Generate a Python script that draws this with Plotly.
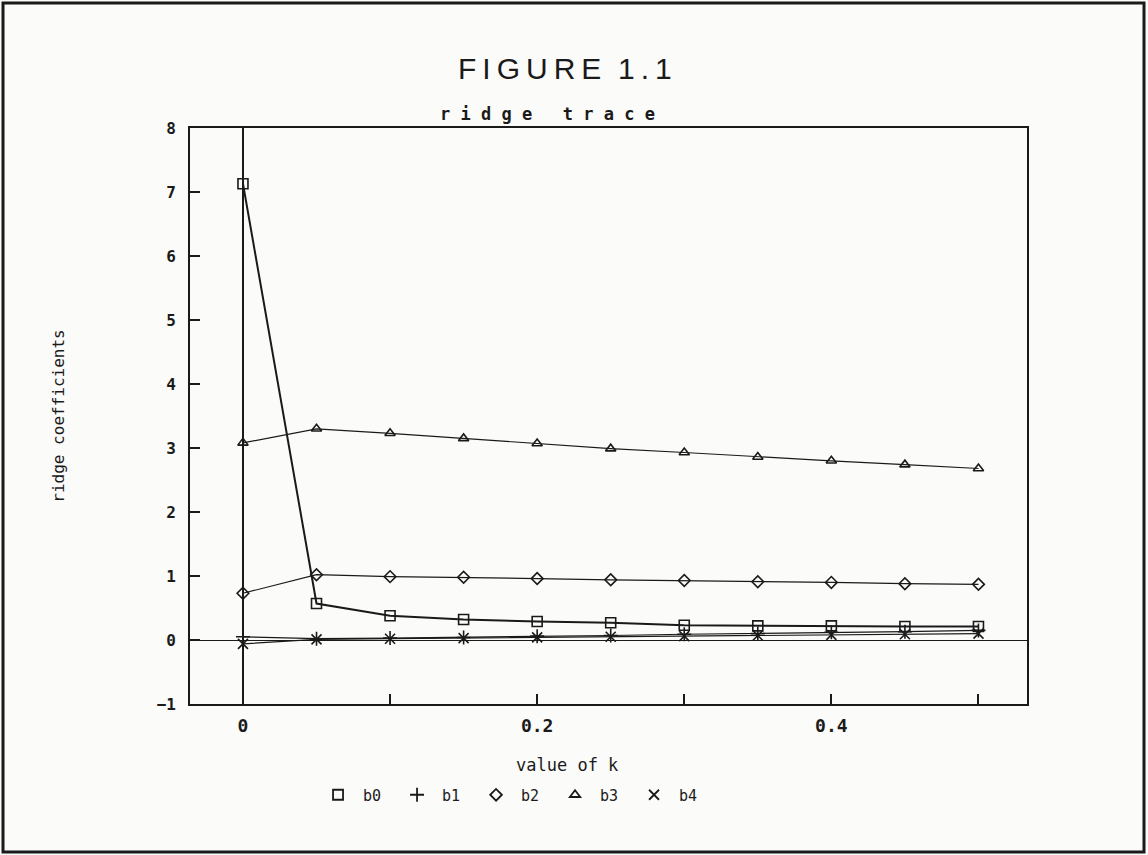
import plotly.graph_objects as go

k_values = [0.0, 0.05, 0.10, 0.15, 0.20, 0.25, 0.30, 0.35, 0.40, 0.45, 0.50]
b0 = [7.13, 0.57, 0.38, 0.32, 0.29, 0.27, 0.23, 0.22, 0.22, 0.21, 0.21]
b1 = [0.05, 0.02, 0.03, 0.04, 0.06, 0.07, 0.09, 0.10, 0.12, 0.13, 0.15]
b2 = [0.73, 1.02, 0.99, 0.98, 0.96, 0.94, 0.93, 0.91, 0.90, 0.88, 0.87]
b3 = [3.08, 3.30, 3.23, 3.15, 3.07, 2.99, 2.93, 2.86, 2.80, 2.74, 2.68]
b4 = [-0.06, 0.01, 0.02, 0.03, 0.04, 0.05, 0.06, 0.07, 0.08, 0.09, 0.10]

series_names = ["b0", "b1", "b2", "b3", "b4"]
series_values = [b0, b1, b2, b3, b4]
symbols = ["square-open", "cross-thin-open", "diamond-open", "triangle-up-open", "x-thin-open"]
marker_sizes = [10, 10, 9, 9, 10]
line_widths = [2.0, 1.2, 1.2, 1.2, 1.2]

INK = "#1a1a1a"
MONO = "DejaVu Sans Mono"

fig = go.Figure()
for name, vals, sym, ms, lw in zip(series_names, series_values, symbols, marker_sizes, line_widths):
    fig.add_trace(go.Scatter(
        x=k_values, y=vals, mode="lines+markers", name=name, showlegend=False,
        line=dict(color=INK, width=lw),
        marker=dict(symbol=sym, size=ms, color=INK, line=dict(color=INK, width=1.6)),
    ))
    fig.add_trace(go.Scatter(
        x=[None], y=[None], mode="markers", name=name, showlegend=True,
        marker=dict(symbol=sym, size=ms, color=INK, line=dict(color=INK, width=1.8)),
    ))

fig.update_layout(
    width=1148, height=855,
    margin=dict(l=190, r=121, t=128, b=151),
    paper_bgcolor="#fbfbfa", plot_bgcolor="#fbfbfa",
    font=dict(family=MONO, color=INK, size=14),
    legend=dict(orientation="h", x=0.147, xanchor="left", y=-0.158, yanchor="middle",
                entrywidth=24, entrywidthmode="pixels", itemwidth=40,
                font=dict(family=MONO, size=15, color=INK), bgcolor="rgba(0,0,0,0)"),
    xaxis=dict(range=[-0.036, 0.533], dtick=0.2, tick0=0,
               ticks="inside", ticklen=10, tickwidth=1.5, tickcolor=INK, ticklabelstandoff=5,
               minor=dict(dtick=0.1, ticks="inside", ticklen=10, tickwidth=1.5, tickcolor=INK),
               showgrid=False, zeroline=True, zerolinecolor=INK, zerolinewidth=2.4,
               showline=True, linecolor=INK, linewidth=1.6, mirror=True,
               tickfont=dict(family=MONO, size=18, weight="bold")),
    yaxis=dict(range=[-1, 8], dtick=1, tick0=0,
               ticks="inside", ticklen=10, tickwidth=1.5, tickcolor=INK, ticklabelstandoff=9,
               showgrid=False, zeroline=True, zerolinecolor=INK, zerolinewidth=1.2,
               showline=True, linecolor=INK, linewidth=1.6, mirror=True,
               title=dict(text="ridge coefficients", standoff=88, font=dict(family=MONO, size=16)),
               tickfont=dict(family=MONO, size=16, weight="bold")),
    annotations=[
        dict(text="F\u2009I\u2009G\u2009U\u2009R\u2009E  1\u2009.\u20091", x=0.448, y=1.104,
             xref="paper", yref="paper", xanchor="center", yanchor="middle",
             showarrow=False, font=dict(family="Liberation Sans", size=30, color=INK)),
        dict(text="r i d g e   t r a c e", x=0.427, y=1.024, xref="paper", yref="paper",
             xanchor="center", yanchor="middle",
             showarrow=False, font=dict(family=MONO, size=17, color=INK, weight="bold")),
        dict(text="value of k", x=0.451, y=-0.106, xref="paper", yref="paper",
             xanchor="center", yanchor="middle",
             showarrow=False, font=dict(family=MONO, size=17, color=INK)),
    ],
    shapes=[
        dict(type="rect", xref="paper", yref="paper", x0=-0.2234, x1=1.1398, y0=-0.257, y1=1.217,
             line=dict(color=INK, width=3), layer="below"),
    ],
)

fig.write_html("out.html", config={"displayModeBar": False},
               post_script="document.body.style.margin='0';document.body.style.overflow='hidden';")
